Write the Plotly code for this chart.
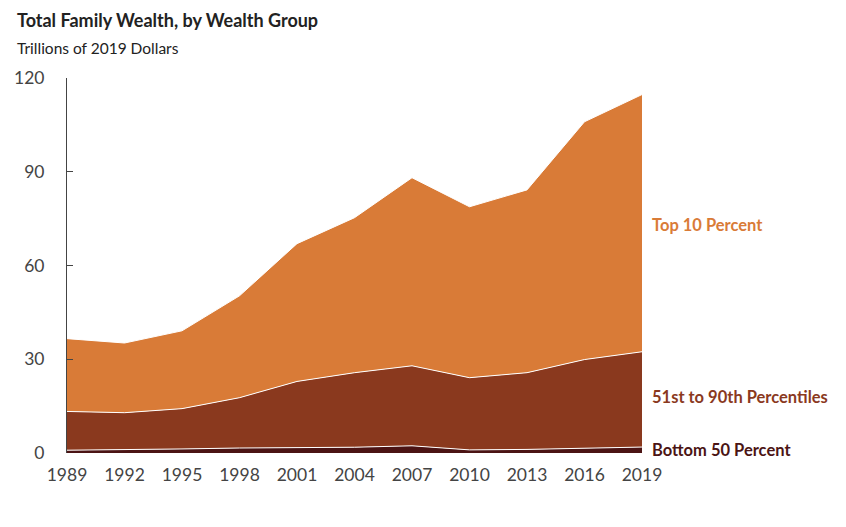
import plotly.graph_objects as go

years = [1989, 1992, 1995, 1998, 2001, 2004, 2007, 2010, 2013, 2016, 2019]
bottom50 = [0.9, 1.0, 1.3, 1.6, 1.8, 1.85, 2.3, 1.0, 1.15, 1.5, 1.9]
pct51_90 = [12.4, 11.9, 12.9, 16.1, 21.1, 23.85, 25.6, 23.1, 24.55, 28.4, 30.5]
top10 = [23.3, 22.3, 24.9, 32.6, 44.1, 49.6, 60.2, 54.7, 58.5, 76.1, 82.3]

series_names = ["Bottom 50 Percent", "51st to 90th Percentiles", "Top 10 Percent"]
colors = ["#4B1414", "#8A391E", "#D97B37"]
label_colors = ["#4B1414", "#8A391E", "#D97B37"]

FONT = "Lato, Open Sans, sans-serif"

fig = go.Figure()
for name, vals, c in zip(series_names, [bottom50, pct51_90, top10], colors):
    fig.add_trace(go.Scatter(
        x=years, y=vals, name=name, mode="lines", stackgroup="one",
        line=dict(color="white", width=1), fillcolor=c, hoverinfo="x+y+name",
    ))

label_y = [1.0, 18.0, 73.0]
for name, yv, c in zip(series_names, label_y, label_colors):
    fig.add_annotation(x=1, xref="paper", xshift=8, y=yv, yref="y", text=name,
                       showarrow=False, xanchor="left", yanchor="middle",
                       font=dict(family=FONT, size=16.5, color=c, weight="bold"))

fig.add_annotation(x=0, xref="paper", xshift=-52, y=1, yref="paper", yshift=45,
                   text="<b>Total Family Wealth, by Wealth Group</b>", showarrow=False,
                   xanchor="left", yanchor="bottom",
                   font=dict(family=FONT, size=18, color="#222"))
fig.add_annotation(x=0, xref="paper", xshift=-52, y=1, yref="paper", yshift=19,
                   text="Trillions of 2019 Dollars", showarrow=False,
                   xanchor="left", yanchor="bottom",
                   font=dict(family=FONT, size=15.5, color="#222"))

fig.update_layout(
    width=838, height=519,
    margin=dict(l=59, r=204, t=70, b=74, autoexpand=False),
    paper_bgcolor="white", plot_bgcolor="white",
    showlegend=False,
    font=dict(family=FONT, size=17, color="#444"),
    xaxis=dict(range=[1989, 2019], tickvals=years, ticktext=[str(y) for y in years],
               showgrid=False, zeroline=False, showline=False, ticks="", ticklabelstandoff=9,
               automargin=False, tickfont=dict(size=17.5, color="#444")),
    yaxis=dict(range=[0, 120], tickvals=[0, 30, 60, 90, 120], showgrid=False, zeroline=False,
               showline=True, linecolor="#444", linewidth=1, ticks="inside", ticklen=6,
               automargin=False,
               tickcolor="#444", ticklabelstandoff=18, tickfont=dict(size=17.5, color="#444")),
)

fig.write_html("out.html")
